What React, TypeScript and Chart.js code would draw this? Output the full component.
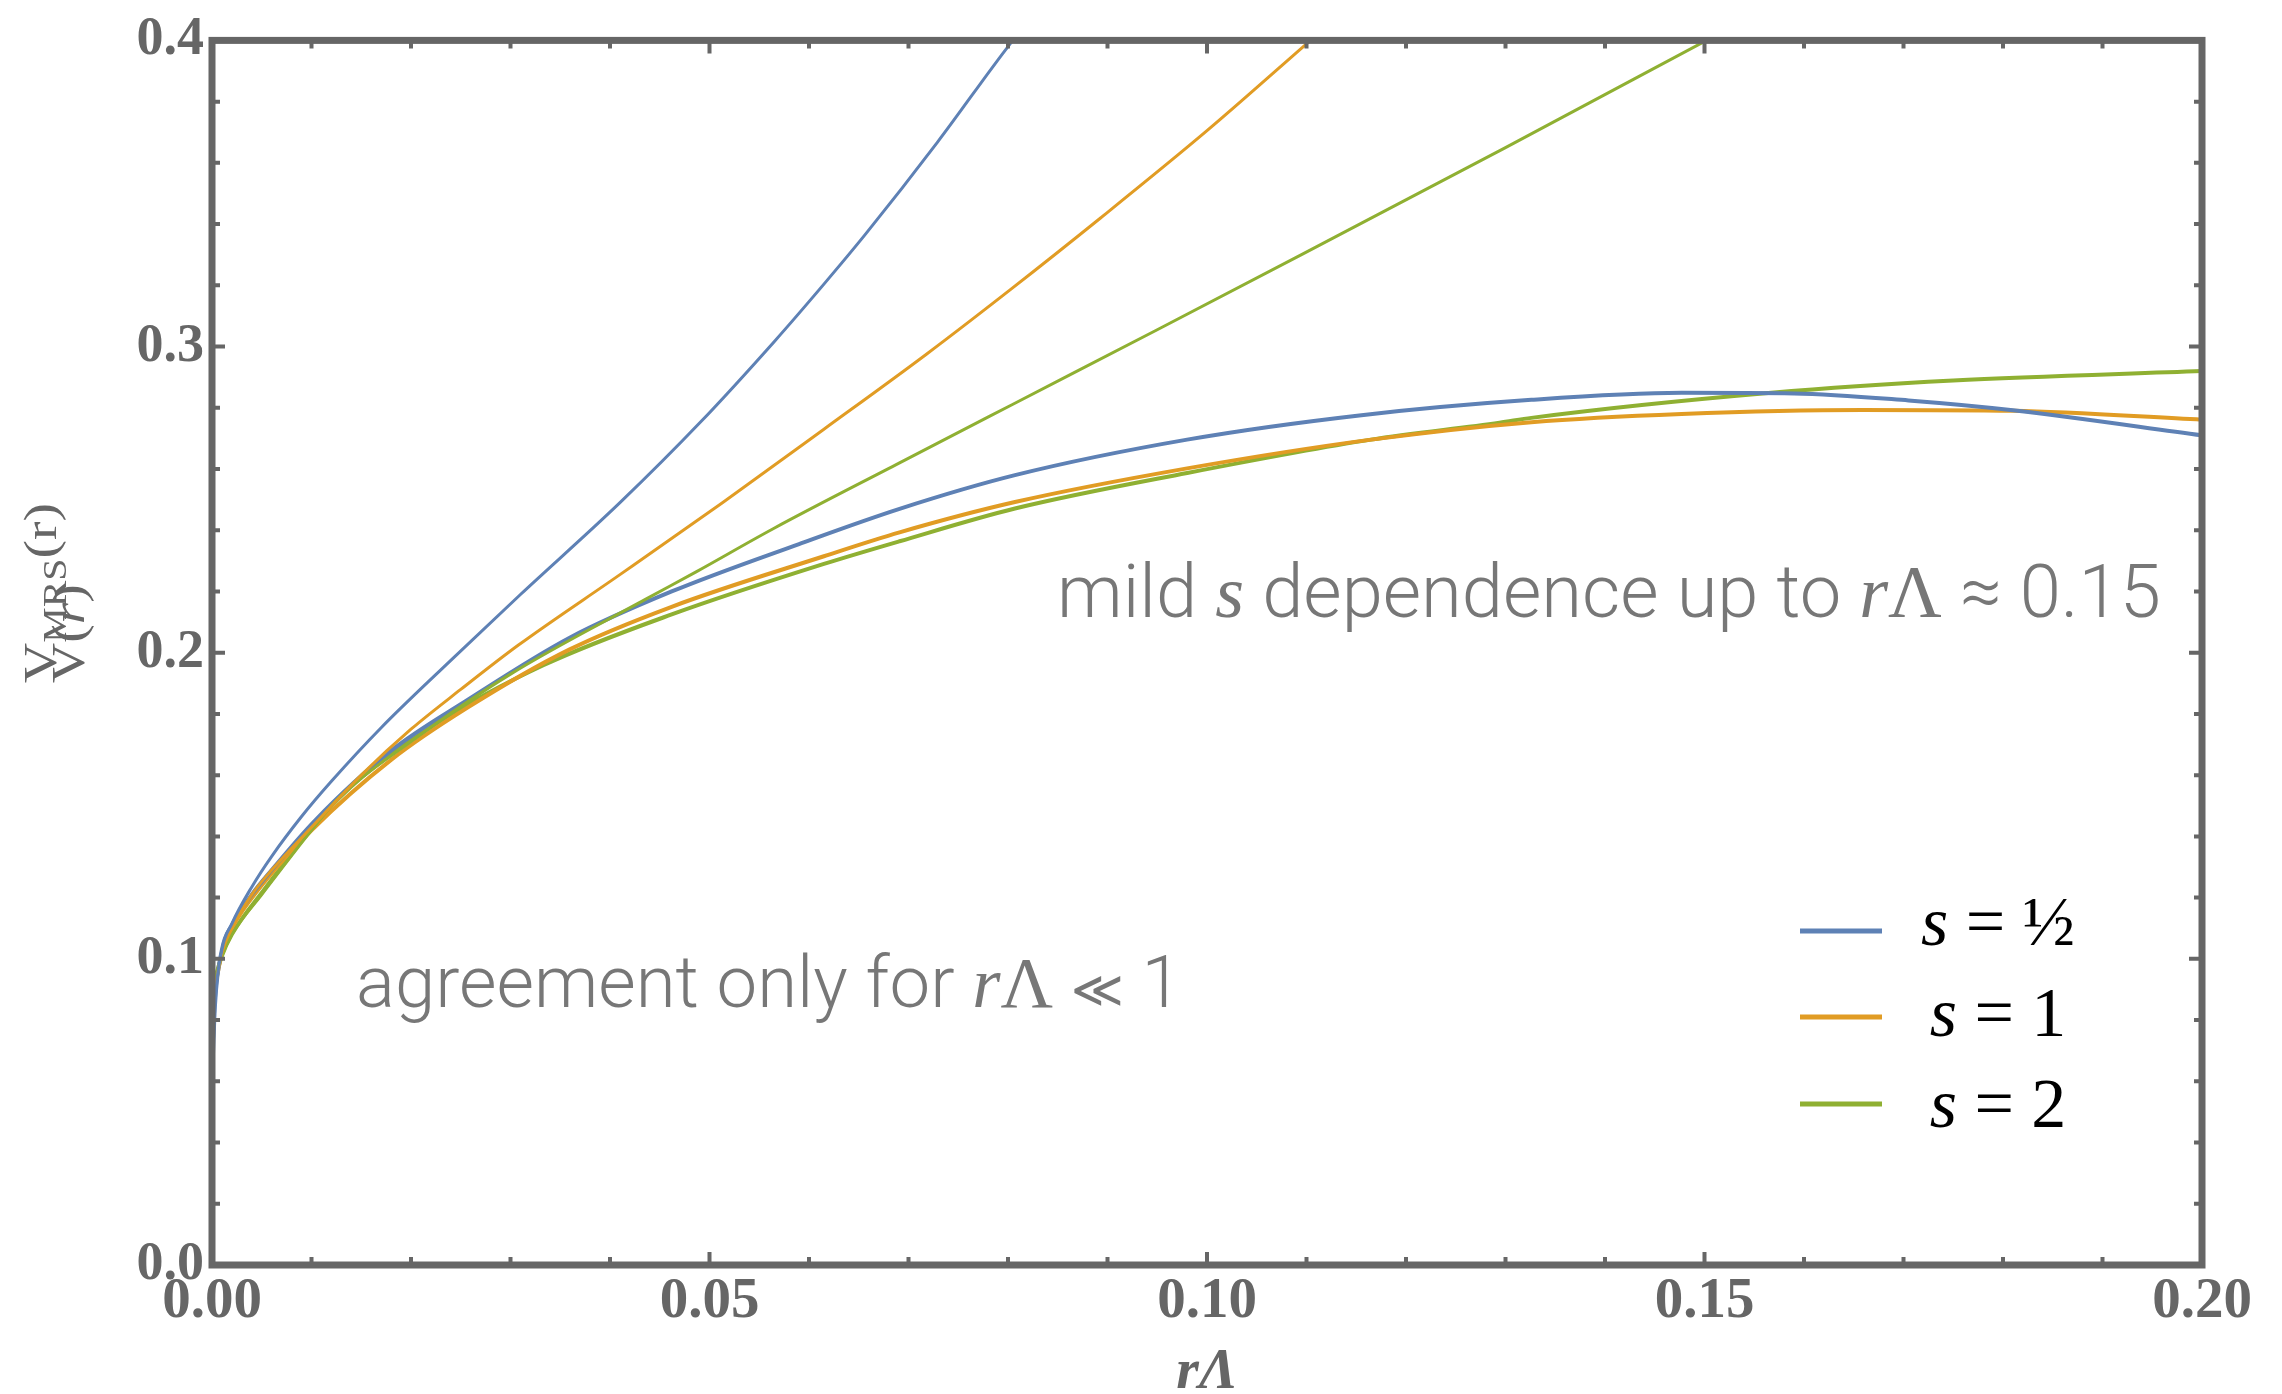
import React, { useEffect, useRef } from "react";
import { Chart, registerables } from "chart.js";

Chart.register(...registerables);

// ---------------- data ----------------
const blueUpperX = [0, 0.0003, 0.001, 0.002, 0.004, 0.006, 0.009, 0.012, 0.017, 0.024, 0.031, 0.041, 0.049, 0.0565, 0.0615, 0.0657, 0.0729, 0.0801, 0.0805];
const blueUpperY = [0.06, 0.085, 0.103, 0.1115, 0.1235, 0.1335, 0.1465, 0.158, 0.1755, 0.1975, 0.219, 0.249, 0.275, 0.3016, 0.3204, 0.3368, 0.3667, 0.3984, 0.4];

const blueLowerX = [0, 0.0003, 0.001, 0.002, 0.004, 0.006, 0.0103, 0.018, 0.0256, 0.0359, 0.0462, 0.059, 0.0691, 0.0807, 0.098, 0.1153, 0.1326, 0.1477, 0.159, 0.1705, 0.181, 0.2];
const blueLowerY = [0.06, 0.085, 0.103, 0.111, 0.121, 0.129, 0.145, 0.168, 0.1844, 0.2048, 0.22, 0.2355, 0.247, 0.258, 0.2696, 0.2775, 0.2826, 0.2849, 0.2847, 0.2824, 0.2792, 0.271];

const orangeUpperX = [0, 0.001, 0.002, 0.004, 0.006, 0.01, 0.015, 0.02, 0.025, 0.0308, 0.041, 0.0513, 0.0615, 0.0718, 0.0804, 0.0893, 0.1, 0.1104];
const orangeUpperY = [0.085, 0.102, 0.11, 0.121, 0.129, 0.143, 0.16, 0.175, 0.188, 0.2025, 0.2255, 0.249, 0.273, 0.2975, 0.319, 0.342, 0.3705, 0.4];

const orangeLowerX = [0, 0.001, 0.002, 0.005, 0.01, 0.018, 0.0256, 0.0359, 0.0462, 0.0615, 0.0691, 0.0807, 0.098, 0.1165, 0.1326, 0.1477, 0.1659, 0.181, 0.2];
const orangeLowerY = [0.085, 0.102, 0.11, 0.124, 0.142, 0.165, 0.1819, 0.201, 0.215, 0.2315, 0.2393, 0.2492, 0.2602, 0.2696, 0.2753, 0.278, 0.2793, 0.279, 0.2761];

const greenUpperX = [0, 0.001, 0.002, 0.005, 0.01, 0.0128, 0.02, 0.03, 0.0436, 0.0487, 0.0564, 0.0691, 0.0804, 0.095, 0.1095, 0.13, 0.1502];
const greenUpperY = [0.09, 0.101, 0.108, 0.121, 0.142, 0.1528, 0.171, 0.193, 0.2175, 0.2265, 0.2405, 0.262, 0.281, 0.3055, 0.33, 0.365, 0.4];

const greenLowerX = [0, 0.001, 0.002, 0.0051, 0.0128, 0.0231, 0.0333, 0.0462, 0.0615, 0.0691, 0.0807, 0.098, 0.1165, 0.1294, 0.1326, 0.1567, 0.175, 0.2];
const greenLowerY = [0.09, 0.101, 0.108, 0.122, 0.1526, 0.178, 0.1959, 0.2125, 0.229, 0.2364, 0.2471, 0.2587, 0.2696, 0.2751, 0.2767, 0.2849, 0.2889, 0.292];

const xMajorTicks = [0, 0.05, 0.1, 0.15, 0.2];
const xMinorTicks = [0.01, 0.02, 0.03, 0.04, 0.06, 0.07, 0.08, 0.09, 0.11, 0.12, 0.13, 0.14, 0.16, 0.17, 0.18, 0.19];
const yMajorTicks = [0, 0.1, 0.2, 0.3, 0.4];
const yMinorTicks = [0.02, 0.04, 0.06, 0.08, 0.12, 0.14, 0.16, 0.18, 0.22, 0.24, 0.26, 0.28, 0.32, 0.34, 0.36, 0.38];

const legendValues = ["\u00BD", "1", "2"];

// ---------------- styles ----------------
const BLUE = "#5E81B5";
const ORANGE = "#E19C24";
const GREEN = "#8FB032";
const AXIS = "#666666";
const NOTE = "#777777";
const SERIF = "'Liberation Serif', 'Times New Roman', Times, serif";
const SANS = "Roboto, 'Open Sans', 'Liberation Sans', sans-serif";

const zip = (xs: number[], ys: number[]) => xs.map((x, i) => ({ x, y: ys[i] }));

type Seg = { t: string; k: "sans" | "serif" | "serifI" | "sym"; r?: number };
const segFont = (k: string, size: number) =>
  k === "sans"
    ? `300 ${size}px ${SANS}`
    : k === "serifI"
    ? `italic ${size}px ${SERIF}`
    : k === "sym"
    ? `${size}px 'DejaVu Sans', sans-serif`
    : `${size}px ${SERIF}`;

function drawRich(ctx: CanvasRenderingContext2D, segs: Seg[], x: number, y: number, targetWidth: number, color: string) {
  const base = 100;
  let w = 0;
  for (const s of segs) {
    ctx.font = segFont(s.k, base * (s.r || 1));
    w += ctx.measureText(s.t).width;
  }
  const size = (base * targetWidth) / w;
  ctx.fillStyle = color;
  ctx.textBaseline = "alphabetic";
  ctx.textAlign = "left";
  let cx = x;
  for (const s of segs) {
    ctx.font = segFont(s.k, size * (s.r || 1));
    ctx.fillText(s.t, cx, y);
    cx += ctx.measureText(s.t).width;
  }
}

const decorPlugin = {
  id: "decor",
  afterDatasetsDraw(chart: any) {
    const { ctx, chartArea: a, scales } = chart;
    const xs = scales.x;
    const ys = scales.y;
    ctx.save();
    ctx.strokeStyle = AXIS;
    ctx.lineCap = "butt";
    ctx.lineWidth = 4;
    const drawX = (v: number, len: number) => {
      const px = xs.getPixelForValue(v);
      ctx.beginPath();
      ctx.moveTo(px, a.bottom);
      ctx.lineTo(px, a.bottom - len);
      ctx.moveTo(px, a.top);
      ctx.lineTo(px, a.top + len);
      ctx.stroke();
    };
    const drawY = (v: number, len: number) => {
      const py = ys.getPixelForValue(v);
      ctx.beginPath();
      ctx.moveTo(a.left, py);
      ctx.lineTo(a.left + len, py);
      ctx.moveTo(a.right, py);
      ctx.lineTo(a.right - len, py);
      ctx.stroke();
    };
    xMinorTicks.forEach((v) => drawX(v, 8));
    xMajorTicks.forEach((v) => drawX(v, 13));
    yMinorTicks.forEach((v) => drawY(v, 8));
    yMajorTicks.forEach((v) => drawY(v, 13));
    ctx.lineWidth = 7;
    ctx.lineJoin = "miter";
    ctx.strokeRect(a.left, a.top, a.right - a.left, a.bottom - a.top);

    // legend
    const legendColors = [BLUE, ORANGE, GREEN];
    const lineY = [931, 1017, 1104];
    const textY = [945, 1036, 1127];
    legendValues.forEach((val, i) => {
      ctx.strokeStyle = legendColors[i];
      ctx.lineWidth = 5;
      ctx.beginPath();
      ctx.moveTo(1800, lineY[i]);
      ctx.lineTo(1882, lineY[i]);
      ctx.stroke();
      const size = 70;
      const parts: Seg[] = [
        { t: "s", k: "serifI" },
        { t: " = ", k: "serif" },
        { t: val, k: "serif" },
      ];
      let w = 0;
      parts.forEach((p) => {
        ctx.font = segFont(p.k, size);
        w += ctx.measureText(p.t).width;
      });
      let cx = 1998 - w / 2;
      ctx.fillStyle = "#000000";
      ctx.textBaseline = "alphabetic";
      ctx.textAlign = "left";
      parts.forEach((p) => {
        ctx.font = segFont(p.k, size);
        ctx.fillText(p.t, cx, textY[i]);
        cx += ctx.measureText(p.t).width;
      });
    });

    // annotations
    drawRich(
      ctx,
      [
        { t: "mild ", k: "sans" },
        { t: "s", k: "serifI" },
        { t: " dependence up to ", k: "sans" },
        { t: "r", k: "serifI" },
        { t: "\u039B", k: "serif" },
        { t: " \u2248 0.15", k: "sans" },
      ],
      1057,
      617,
      1104,
      NOTE
    );
    drawRich(
      ctx,
      [
        { t: "agreement only for ", k: "sans" },
        { t: "r", k: "serifI" },
        { t: "\u039B", k: "serif" },
        { t: " ", k: "sans" },
        { t: "\u226A", k: "sym", r: 0.7 },
        { t: " 1", k: "sans" },
      ],
      356,
      1007,
      826,
      NOTE
    );

    // x-axis title
    ctx.fillStyle = AXIS;
    ctx.font = `italic bold 58px ${SERIF}`;
    ctx.textAlign = "center";
    ctx.textBaseline = "alphabetic";
    ctx.fillText("r\u039B", 1207, 1388);

    // y-axis title (rotated, stretched fraction)
    const fs = 46;
    const measureParts = (parts: { t: string; f: string }[]) =>
      parts.reduce((acc, p) => {
        ctx.font = p.f;
        return acc + ctx.measureText(p.t).width;
      }, 0);
    const num = [
      { t: "V", f: `${fs}px ${SERIF}`, dy: 0 },
      { t: "MRS", f: `${Math.round(fs * 0.72)}px ${SERIF}`, dy: 10 },
      { t: "(r)", f: `${fs}px ${SERIF}`, dy: 0 },
    ];
    const den = [
      { t: "V(", f: `${fs}px ${SERIF}`, dy: 0 },
      { t: "r", f: `italic ${fs}px ${SERIF}`, dy: 0 },
      { t: ")", f: `${fs}px ${SERIF}`, dy: 0 },
    ];
    const stretch = 180 / measureParts(num);
    const drawRot = (x0: number, y0: number, parts: { t: string; f: string; dy: number }[]) => {
      ctx.save();
      ctx.translate(x0, y0);
      ctx.rotate(-Math.PI / 2);
      ctx.scale(stretch, 1);
      ctx.textAlign = "left";
      ctx.textBaseline = "alphabetic";
      let cx = 0;
      parts.forEach((p) => {
        ctx.font = p.f;
        ctx.fillText(p.t, cx, p.dy);
        cx += ctx.measureText(p.t).width;
      });
      ctx.restore();
    };
    ctx.fillStyle = AXIS;
    drawRot(56, 683, num);
    drawRot(84, 683, den);
    ctx.restore();
  },
};

export default function App() {
  const canvasRef = useRef<HTMLCanvasElement | null>(null);

  useEffect(() => {
    const canvas = canvasRef.current;
    if (!canvas) return;
    const ds = (label: string, xs: number[], ys: number[], color: string, width: number) => ({
      label,
      data: zip(xs, ys),
      borderColor: color,
      backgroundColor: color,
      borderWidth: width,
      pointRadius: 0,
      fill: false,
      cubicInterpolationMode: "monotone" as const,
    });
    const chart = new Chart(canvas, {
      type: "line",
      data: {
        datasets: [
          ds("s = \u00BD (a)", blueUpperX, blueUpperY, BLUE, 3),
          ds("s = 1 (a)", orangeUpperX, orangeUpperY, ORANGE, 3),
          ds("s = 2 (a)", greenUpperX, greenUpperY, GREEN, 3),
          ds("s = \u00BD", blueLowerX, blueLowerY, BLUE, 4),
          ds("s = 1", orangeLowerX, orangeLowerY, ORANGE, 4),
          ds("s = 2", greenLowerX, greenLowerY, GREEN, 4),
        ],
      },
      options: {
        animation: false,
        responsive: false,
        maintainAspectRatio: false,
        devicePixelRatio: 1,
        events: [],
        layout: { padding: { left: 0, right: 80, top: 35, bottom: 0 } },
        plugins: { legend: { display: false }, tooltip: { enabled: false } },
        scales: {
          x: {
            type: "linear",
            min: 0,
            max: 0.2,
            grid: { display: false, drawTicks: false },
            border: { display: false },
            afterBuildTicks: (s: any) => {
              s.ticks = xMajorTicks.map((v) => ({ value: v }));
            },
            afterFit: (s: any) => {
              s.height = 129;
            },
            ticks: {
              color: AXIS,
              font: { family: SERIF, size: 57, weight: "bold" },
              padding: 3,
              maxRotation: 0,
              autoSkip: false,
              callback: (v: any) => Number(v).toFixed(2),
            },
          },
          y: {
            type: "linear",
            min: 0,
            max: 0.4,
            grid: { display: false, drawTicks: false },
            border: { display: false },
            afterBuildTicks: (s: any) => {
              s.ticks = yMajorTicks.map((v) => ({ value: v }));
            },
            afterFit: (s: any) => {
              s.width = 212;
            },
            ticks: {
              color: AXIS,
              font: { family: SERIF, size: 54, weight: "bold" },
              padding: 8,
              autoSkip: false,
              callback: (v: any) => Number(v).toFixed(1),
            },
          },
        },
      } as any,
      plugins: [decorPlugin],
    });
    return () => chart.destroy();
  }, []);

  return (
    <div style={{ position: "fixed", left: 0, top: 0, width: 2282, height: 1394, background: "#ffffff" }}>
      <canvas ref={canvasRef} width={2282} height={1394} style={{ display: "block", width: 2282, height: 1394 }} />
    </div>
  );
}
